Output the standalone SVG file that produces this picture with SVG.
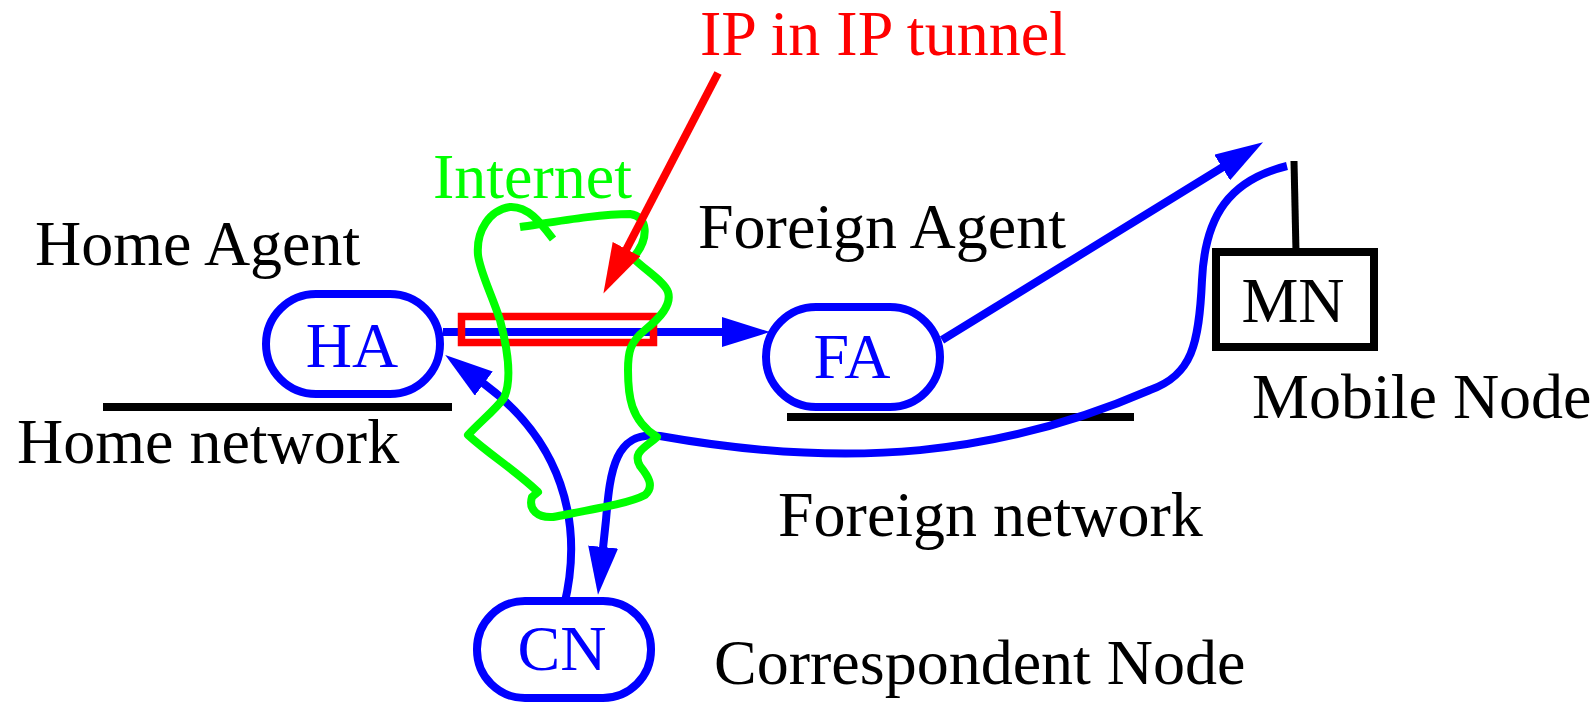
<svg xmlns="http://www.w3.org/2000/svg" width="1596" height="702" viewBox="0 0 1596 702">
<style>
text{font-family:"Liberation Serif","Times New Roman",serif;font-size:64px}
.lbl{fill:#000}
.bl{fill:#0000ff}
.pill{fill:#fff;stroke:#0000ff;stroke-width:8}
.net{stroke:#000;stroke-width:8;fill:none}
.conn{fill:none;stroke:#0000ff;stroke-width:8}
</style>
<defs>
<marker id="ab" markerUnits="userSpaceOnUse" viewBox="0 0 48 30" refX="1" refY="15" markerWidth="48" markerHeight="30" orient="auto">
<path d="M0,0 L48,15 L0,30 z" fill="#0000ff"/>
</marker>
<marker id="ar" markerUnits="userSpaceOnUse" viewBox="0 0 50 31" refX="1" refY="15.5" markerWidth="50" markerHeight="31" orient="auto">
<path d="M0,0 L50,15.5 L0,31 z" fill="#ff0000"/>
</marker>
</defs>
<rect width="1596" height="702" fill="#fff"/>

<g id="home-network">
<line class="net" x1="103" y1="407" x2="452" y2="407"/>
<text class="lbl" x="17" y="463">Home network</text>
</g>
<g id="foreign-network">
<line class="net" x1="787" y1="417" x2="1134" y2="417"/>
<text class="lbl" x="778" y="536">Foreign network</text>
</g>

<g id="connectors">
<path class="conn" d="M443,332 L723,332" marker-end="url(#ab)"/>
<path class="conn" d="M942,340 L1223,167" marker-end="url(#ab)"/>
<path class="conn" d="M564,606 C585,520 560,440 483,383" marker-end="url(#ab)"/>
<path class="conn" d="M1287,166 C1230,180 1205,215 1202,280 C1199,345 1192,375 1150,390 C1000,455 850,470 660,436 C615,430 610,470 606,520 L603,548" marker-end="url(#ab)"/>
</g>

<g id="tunnel">
<rect x="461.5" y="316.5" width="192" height="26" fill="none" stroke="#ff0000" stroke-width="7.5"/>
</g>

<g id="internet">
<path d="M520,227 C560,221 600,214 630,214 C648,216 650,238 633,258 C645,270 665,282 668,292 C672,305 660,318 645,330 C630,342 628,352 628,370 C628,395 630,420 657,437 C645,448 632,452 640,466 C648,476 655,486 645,495 C630,503 600,508 553,517 C538,518 528,510 532,497 L538,492 C515,470 490,455 468,435 C480,422 495,410 504,398 C512,380 508,350 500,320 C492,295 480,272 478,255 C476,230 490,210 510,207 C528,206 540,222 553,239" fill="none" stroke="#00ff00" stroke-width="8" stroke-linejoin="round"/>
<text x="433" y="198" fill="#00ff00">Internet</text>
</g>

<g id="tunnel-label">
<path d="M718,73 L626,250" fill="none" stroke="#ff0000" stroke-width="8" marker-end="url(#ar)"/>
<text x="700" y="55" fill="#ff0000">IP in IP tunnel</text>
</g>

<g id="HA">
<rect class="pill" x="266" y="294" width="174" height="100" rx="50" ry="50"/>
<text class="bl" x="352" y="367" text-anchor="middle">HA</text>
<text class="lbl" x="35" y="265">Home Agent</text>
</g>

<g id="FA">
<rect class="pill" x="766" y="307" width="174" height="100" rx="50" ry="50"/>
<text class="bl" x="852" y="378" text-anchor="middle">FA</text>
<text class="lbl" x="698" y="248">Foreign Agent</text>
</g>

<g id="CN">
<rect class="pill" x="477" y="601" width="174" height="97" rx="48" ry="48"/>
<text class="bl" x="562" y="670" text-anchor="middle">CN</text>
<text class="lbl" x="714" y="684">Correspondent Node</text>
</g>

<g id="MN">
<line x1="1296" y1="252" x2="1294" y2="161" stroke="#000" stroke-width="7"/>
<rect x="1216" y="252" width="158" height="95" fill="#fff" stroke="#000" stroke-width="8"/>
<text class="lbl" x="1293" y="322" text-anchor="middle">MN</text>
<text class="lbl" x="1252" y="418">Mobile Node</text>
</g>
</svg>
